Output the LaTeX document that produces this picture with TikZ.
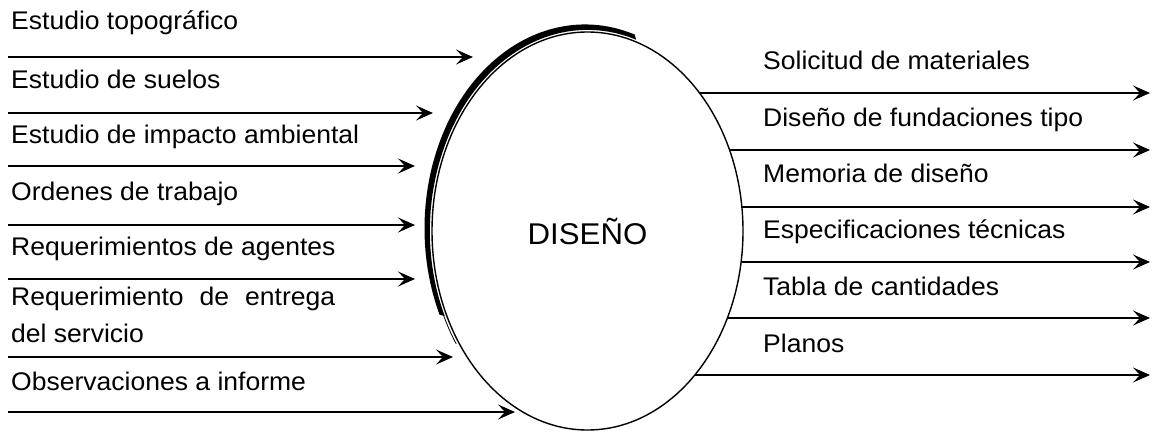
\documentclass[tikz,border=0pt]{standalone}
\usepackage{fontspec}
\setmainfont{Liberation Sans}[FakeStretch=1.04]
\usetikzlibrary{arrows.meta,shapes.geometric,calc}
\begin{document}
\begin{tikzpicture}[x=1pt,y=1pt,
  lbl/.style={anchor=base west,inner sep=0pt,font=\fontsize{25.5}{30}\selectfont},
  flow/.style={line width=1.4pt,-{Stealth[length=17pt,width=15pt,inset=7pt]}},
  proc/.style={draw,ellipse,line width=1.4pt,inner sep=0pt,minimum width=311pt,minimum height=398pt,font=\fontsize{30}{36}\selectfont}]
\useasboundingbox (0,0) rectangle (1156,-431);
% process
\node[proc] (E) at (587.5,-231) {DISEÑO};
% shadow stroke on upper-left
\fill ($(585,-228.5)+(72:160.5pt and 204pt)$)
   arc[start angle=72,end angle=205,x radius=160.5pt,y radius=204pt]
   -- ($(587.5,-231)+(205:157.6pt and 201.1pt)$)
   arc[start angle=205,end angle=72,x radius=157.6pt,y radius=201.1pt] -- cycle;
\draw[line width=0.8pt] ($(587.5,-231)+(200:158.4pt and 201.9pt)$)
   arc[start angle=200,end angle=214,x radius=158.4pt,y radius=201.9pt];
% left labels
\node[lbl] (l1) at (11,-29.5) {Estudio topográfico};
\node[lbl] (l2) at (11,-88) {Estudio de suelos};
\node[lbl] (l3) at (11,-143) {Estudio de impacto ambiental};
\node[lbl] (l4) at (11,-200) {Ordenes de trabajo};
\node[lbl] (l5) at (11,-255) {Requerimientos de agentes};
\node[lbl] (l6) at (11,-305) {\makebox[324pt][s]{Requerimiento\hfill de\hfill entrega}};
\node[lbl] (l6b) at (11,-342) {del servicio};
\node[lbl] (l7) at (11,-390) {Observaciones a informe};
% left arrows
\coordinate (a1s) at (8,-57);   \coordinate (a1e) at (473,-57);
\coordinate (a2s) at (8,-113);  \coordinate (a2e) at (433,-113);
\coordinate (a3s) at (8,-166);  \coordinate (a3e) at (415,-166);
\coordinate (a4s) at (8,-225);  \coordinate (a4e) at (415,-225);
\coordinate (a5s) at (8,-279);  \coordinate (a5e) at (415,-279);
\coordinate (a6s) at (8,-357);  \coordinate (a6e) at (453,-357);
\coordinate (a7s) at (8,-412);  \coordinate (a7e) at (515,-412);
\foreach \i in {1,...,7} {\draw[flow] (a\i s) -- (a\i e);}
% right labels
\node[lbl] (r1) at (763,-69) {Solicitud de materiales};
\node[lbl] (r2) at (763,-126) {Diseño de fundaciones tipo};
\node[lbl] (r3) at (763,-182) {Memoria de diseño};
\node[lbl] (r4) at (763,-238) {Especificaciones técnicas};
\node[lbl] (r5) at (763,-295) {Tabla de cantidades};
\node[lbl] (r6) at (763,-352) {Planos};
% right arrows
\coordinate (b1s) at (699.5,-93);  \coordinate (b1e) at (1150,-93);
\coordinate (b2s) at (729.5,-150); \coordinate (b2e) at (1150,-150);
\coordinate (b3s) at (741.9,-207); \coordinate (b3e) at (1150,-207);
\coordinate (b4s) at (741.1,-262); \coordinate (b4e) at (1150,-262);
\coordinate (b5s) at (727.4,-318); \coordinate (b5e) at (1150,-318);
\coordinate (b6s) at (694.8,-375); \coordinate (b6e) at (1150,-375);
\foreach \i in {1,...,6} {\draw[flow,line width=1.3pt] (b\i s) -- (b\i e);}
\end{tikzpicture}
\end{document}
